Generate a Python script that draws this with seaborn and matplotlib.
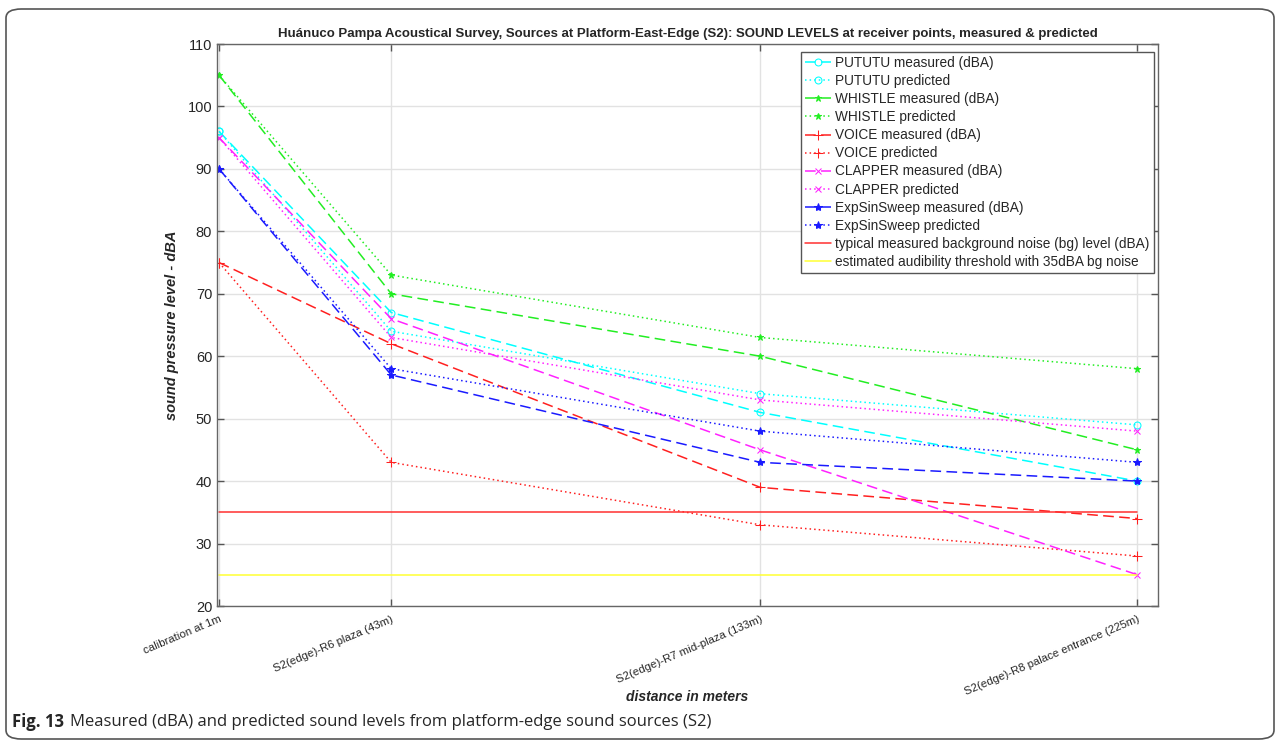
import numpy as np
import pandas as pd
import matplotlib
matplotlib.use("Agg")
import matplotlib.pyplot as plt
import seaborn as sns
from matplotlib.patches import FancyBboxPatch

# Datos
distancias = [1, 43, 133, 225]
etiquetas_x = ["calibration at 1m", "S2(edge)-R6 plaza (43m)",
               "S2(edge)-R7 mid-plaza (133m)", "S2(edge)-R8 palace entrance (225m)"]

pututu_med = [96, 67, 51, 40]
pututu_pred = [96, 64, 54, 49]
whistle_med = [105, 70, 60, 45]
whistle_pred = [105, 73, 63, 58]
voice_med = [75, 62, 39, 34]
voice_pred = [75, 43, 33, 28]
clapper_med = [95, 66, 45, 25]
clapper_pred = [95, 63, 53, 48]
sweep_med = [90, 57, 43, 40]
sweep_pred = [90, 58, 48, 43]

ruido_fondo = 35
umbral = 25

sns.set_style("white")
plt.rcParams['font.family'] = ['Liberation Sans', 'DejaVu Sans']

fig = plt.figure(figsize=(12.82, 7.47), dpi=100)
ax = fig.add_axes([217 / 1282, 1 - 606 / 747, (1158 - 217) / 1282, (606 - 44) / 747])

series = [
    ("PUTUTU measured (dBA)", pututu_med, "#00ffff", "--", "o", 5, "none"),
    ("PUTUTU predicted", pututu_pred, "#00ffff", ":", "o", 5, "none"),
    ("WHISTLE measured (dBA)", whistle_med, "#22ee22", "--", "*", 5, None),
    ("WHISTLE predicted", whistle_pred, "#22ee22", ":", "*", 5, None),
    ("VOICE measured (dBA)", voice_med, "#ff2020", "--", "+", 7, None),
    ("VOICE predicted", voice_pred, "#ff2020", ":", "+", 7, None),
    ("CLAPPER measured (dBA)", clapper_med, "#ff22ff", "--", "x", 5, None),
    ("CLAPPER predicted", clapper_pred, "#ff22ff", ":", "x", 5, None),
    ("ExpSinSweep measured (dBA)", sweep_med, "#1a1aff", "--", "*", 6, None),
    ("ExpSinSweep predicted", sweep_pred, "#1a1aff", ":", "*", 6, None),
]

for nombre, vals, col, ls, mk, ms, mfc in series:
    kw = dict(markerfacecolor=mfc) if mfc else dict(markerfacecolor=col)
    dashes = (7, 3.5) if ls == "--" else (1, 2)
    sns.lineplot(x=distancias, y=vals, color=col, marker=mk, markersize=ms,
                 markeredgecolor=col, dashes=False, linewidth=1.1, label=nombre,
                 sort=False, ax=ax, **kw).lines[-1].set_dashes(dashes)

extremos = [distancias[0], distancias[-1]]
sns.lineplot(x=extremos, y=[ruido_fondo] * 2, color="#ff3030", linewidth=1.1,
             label="typical measured background noise (bg) level (dBA)", ax=ax)
sns.lineplot(x=extremos, y=[umbral] * 2, color="#ffff33", linewidth=1.1,
             label="estimated audibility threshold with 35dBA bg noise", ax=ax)

ax.set_xlim(0.5, 230)
ax.set_ylim(20, 110)
ax.set_yticks(np.arange(20, 111, 10))
ax.set_xticks(distancias)
ax.set_xticklabels(etiquetas_x, rotation=23, ha='right', va='top',
                   rotation_mode='anchor', fontsize=8.2)
ax.tick_params(axis='y', labelsize=10.5)
ax.tick_params(axis='x', pad=6)
ax.tick_params(direction='in', length=5, width=1, color='#555555',
               top=True, right=True, left=True, bottom=True)
ax.grid(True, color='#e2e2e2', linewidth=1)
for s in ax.spines.values():
    s.set_color('#666666')
    s.set_linewidth(1)

ax.set_xlabel("")
fig.text(687 / 1282, 1 - 697 / 747, "distance in meters", fontsize=10,
         fontweight='bold', style='italic', ha='center', va='center')
ax.set_ylabel("sound pressure level - dBA", fontsize=10.5, fontweight='bold',
              style='italic', labelpad=6)
ax.set_title("Huánuco Pampa Acoustical Survey, Sources at Platform-East-Edge (S2): "
             "SOUND LEVELS at receiver points, measured & predicted",
             fontsize=9.5, fontweight='bold', pad=5)

leg = ax.legend(loc='upper right', bbox_to_anchor=(0.9955, 0.986), fontsize=9.8,
                frameon=True, fancybox=False, framealpha=1, edgecolor='#555555',
                handlelength=1.9, handletextpad=0.35, labelspacing=0.3,
                borderpad=0.3, borderaxespad=0)
leg.get_frame().set_linewidth(1)

# Marco redondeado y pie de figura
borde = FancyBboxPatch((6 / 1282, 8 / 747), 1268 / 1282, 730 / 747,
                       boxstyle="round,pad=0,rounding_size=0.012",
                       transform=fig.transFigure, facecolor='none',
                       edgecolor='#555555', linewidth=1.2)
fig.patches.append(borde)
fig.text(12 / 1282, 1 - 722 / 747, "Fig. 13", fontsize=12, fontweight='bold',
         va='center', ha='left', family=['Open Sans', 'DejaVu Sans'])
fig.text(70 / 1282, 1 - 722 / 747,
         "Measured (dBA) and predicted sound levels from platform-edge sound sources (S2)",
         fontsize=12, va='center', ha='left', family=['Open Sans', 'DejaVu Sans'])

fig.savefig("out.png", dpi=100)
